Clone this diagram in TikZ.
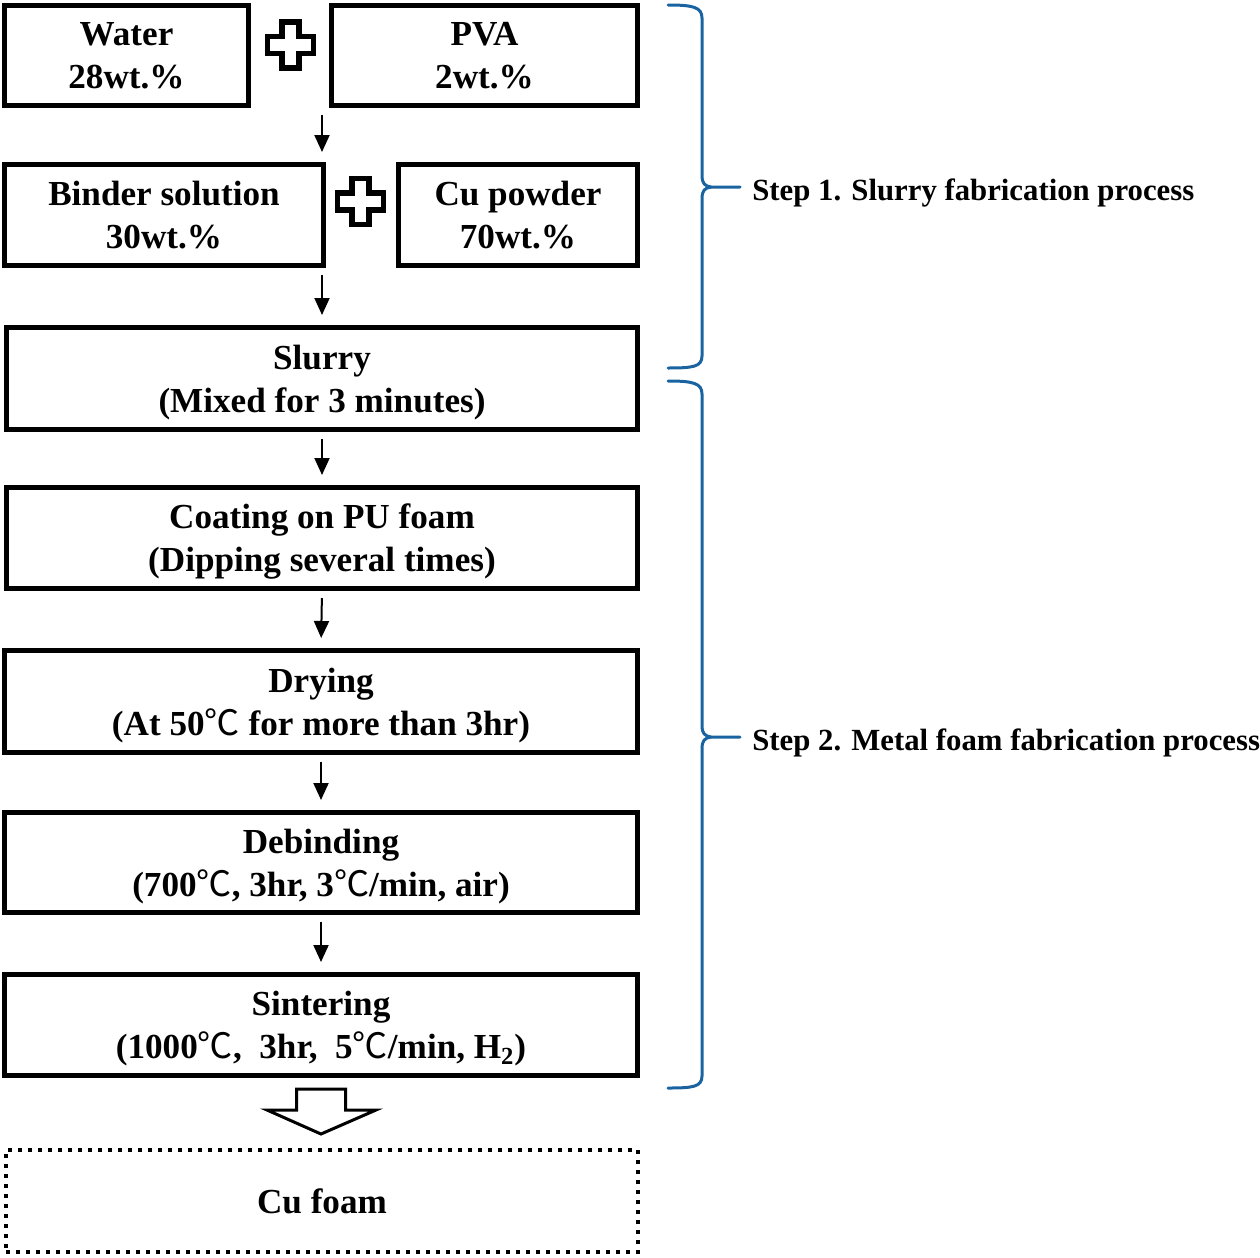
\documentclass[tikz,border=0pt]{standalone}
\usepackage{fontspec}
\setmainfont{Liberation Serif}
\newfontfamily\cjk{Noto Sans CJK SC}
\usepackage{tikz}
\usetikzlibrary{arrows.meta,calc,positioning}
\definecolor{braceblue}{RGB}{25,100,160}
\newcommand{\degc}{{\cjk\mdseries ℃}}

\tikzset{
  stepbox/.style={draw, line width=0.1cm, align=center, inner sep=0pt, text depth=0pt,
    font=\fontsize{20}{24.4}\selectfont\bfseries},
  flowarrow/.style={-{Triangle[length=0.34cm,width=0.3cm]}, line width=0.04cm,
    shorten <=0.14cm, shorten >=0.2cm},
  stepbrace/.style={braceblue, line width=0.06cm, line cap=round, line join=round},
  steplabel/.style={anchor=base west, inner sep=0pt,
    font=\fontsize{17.5}{21}\selectfont\bfseries},
  plussign/.pic={
    \draw[line width=0.11cm] (-0.17,0.46) -- (0.17,0.46) -- (0.17,0.17) -- (0.46,0.17)
      -- (0.46,-0.17) -- (0.17,-0.17) -- (0.17,-0.46) -- (-0.17,-0.46) -- (-0.17,-0.17)
      -- (-0.46,-0.17) -- (-0.46,0.17) -- (-0.17,0.17) -- cycle;}
}

\begin{document}
\begin{tikzpicture}[scale=1]
        \useasboundingbox (0,0) rectangle (25.2,-25.14);
        % Slurry ingredients
        \node[stepbox, minimum width=4.88cm, minimum height=2.0cm] (water) at (2.53,-1.11) {Water\\28wt.\%};
        \node[stepbox, minimum width=6.12cm, minimum height=2.0cm] (pva) at (9.69,-1.11) {PVA\\2wt.\%};
        \node[stepbox, minimum width=6.38cm, minimum height=2.02cm] (binder) at (3.28,-4.30) {Binder solution\\30wt.\%};
        \node[stepbox, minimum width=4.78cm, minimum height=2.02cm] (cupowder) at (10.36,-4.30) {Cu powder\\70wt.\%};
        \pic at (5.81,-0.9) {plussign};
        \pic at (7.21,-4.03) {plussign};
        % Process steps
        \node[stepbox, minimum width=12.62cm, minimum height=2.04cm] (slurry) at (6.44,-7.57) {Slurry\\(Mixed for 3 minutes)};
        \node[stepbox, minimum width=12.62cm, minimum height=2.02cm] (coating) at (6.44,-10.76) {Coating on PU foam\\(Dipping several times)};
        \node[stepbox, minimum width=12.66cm, minimum height=2.04cm] (drying) at (6.42,-14.03) {Drying\\(At 50\degc\ for more than 3hr)};
        \node[stepbox, minimum width=12.66cm, minimum height=2.0cm] (debinding) at (6.42,-17.25) {Debinding\\(700\degc, 3hr, 3\degc/min, air)};
        \node[stepbox, minimum width=12.66cm, minimum height=2.02cm] (sintering) at (6.42,-20.5) {Sintering\\(1000\degc,\ \ 3hr,\ \ 5\degc/min, H\textsubscript{2})};
        \node[stepbox, dash pattern=on 0.08cm off 0.12cm, line width=0.08cm, minimum width=12.64cm, minimum height=2.04cm] (cufoam) at (6.44,-24.02) {Cu foam};
        % Arrows
        \draw[flowarrow] (water.south -| slurry.north) -- (binder.north -| slurry.north);
        \draw[flowarrow] (binder.south -| slurry.north) -- (slurry.north);
        \draw[flowarrow] (slurry.south) -- (coating.north);
        \draw[flowarrow] (coating.south) -- (drying.north);
        \draw[flowarrow] (drying.south) -- (debinding.north);
        \draw[flowarrow] (debinding.south) -- (sintering.north);
        % Hollow arrow to product
        \draw[line width=0.06cm, line join=miter] (5.93,-21.78) -- (6.91,-21.78) -- (6.91,-22.2) -- (7.52,-22.2)
          -- (6.42,-22.68) -- (5.34,-22.2) -- (5.93,-22.2) -- cycle;
        % Step labels and braces
        \coordinate (tip1) at (14.8,-3.74);
        \coordinate (tip2) at (14.8,-14.74);
        \node[steplabel] (step1) at (15.04,-4.0) {Step 1. Slurry fabrication process};
        \node[steplabel] (step2) at (15.04,-15.0) {Step 2. Metal foam fabrication process};
        \draw[stepbrace] (13.36,-0.1) .. controls (13.85,-0.1) and (14.04,-0.14) .. (14.04,-0.36) -- (14.04,-3.5)
          .. controls (14.04,-3.68) and (14.1,-3.72) .. (14.22,-3.74) -- (tip1);
        \draw[stepbrace] (14.22,-3.74) .. controls (14.1,-3.76) and (14.04,-3.8) .. (14.04,-3.98) -- (14.04,-7.12)
          .. controls (14.04,-7.34) and (13.85,-7.36) .. (13.36,-7.36);
        \draw[stepbrace] (13.36,-7.62) .. controls (13.85,-7.62) and (14.04,-7.66) .. (14.04,-7.88) -- (14.04,-14.5)
          .. controls (14.04,-14.68) and (14.1,-14.72) .. (14.22,-14.74) -- (tip2);
        \draw[stepbrace] (14.22,-14.74) .. controls (14.1,-14.76) and (14.04,-14.8) .. (14.04,-14.98) -- (14.04,-21.52)
          .. controls (14.04,-21.74) and (13.85,-21.76) .. (13.36,-21.76);
\end{tikzpicture}
\end{document}
